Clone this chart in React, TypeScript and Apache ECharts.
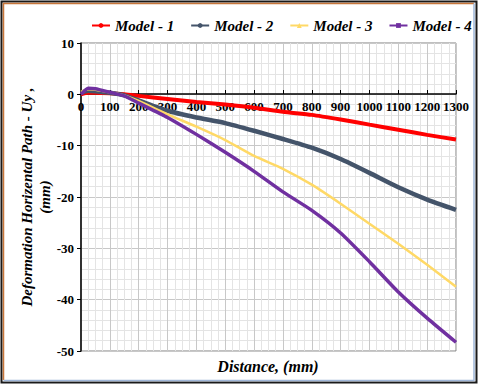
import React, { useEffect, useRef } from "react";
import * as echarts from "echarts";

const distance = [0, 25, 50, 100, 150, 200, 300, 400, 500, 600, 700, 800, 900, 1000, 1100, 1200, 1300];
const model1 = [0, 0.3, 0.3, 0.2, 0, -0.3, -0.9, -1.5, -2.0, -2.6, -3.4, -4.0, -4.9, -5.9, -6.9, -7.9, -8.8];
const model2 = [0.3, 0.7, 0.6, 0.3, -0.2, -1.2, -3.2, -4.5, -5.6, -7.1, -8.7, -10.4, -12.6, -15.3, -18.1, -20.5, -22.5];
const model3 = [0.5, 1.0, 0.9, 0.4, -0.2, -1.3, -3.9, -6.3, -8.9, -12.0, -14.5, -17.6, -21.3, -25.2, -29.1, -33.2, -37.5];
const model4 = [0, 1.2, 1.1, 0.4, -0.3, -1.7, -4.5, -7.8, -11.3, -15.0, -19.0, -22.6, -27.0, -32.6, -38.5, -43.6, -48.3];
const seriesNames = ["Model - 1", "Model - 2", "Model - 3", "Model - 4"];
const xTicks = { min: 0, max: 1300, step: 100 };
const yTicks = { min: -50, max: 10, step: 10 };
const yTitle = "Deformation Horizental Path - Uy ,\n(mm)";
const xTitle = "Distance, (mm)";

const FONT = "'Times New Roman', 'Liberation Serif', 'DejaVu Serif', serif";

export default function App() {
  const ref = useRef<HTMLDivElement>(null);
  useEffect(() => {
    if (!ref.current) return;
    const chart = echarts.init(ref.current, undefined, { renderer: "svg" });
    const mk = (vals: number[]) => distance.map((d, i) => [d, vals[i]]);
    const styles = [
      { color: "#ff0000", width: 4, symbol: "circle" },
      { color: "#44546a", width: 4.5, symbol: "circle" },
      { color: "#ffd966", width: 2.5, symbol: "triangle" },
      { color: "#7030a0", width: 3.5, symbol: "rect" },
    ];
    const data = [model1, model2, model3, model4];
    chart.setOption({
      animation: false,
      backgroundColor: "#ffffff",
      textStyle: { fontFamily: FONT },
      legend: {
        top: 13,
        left: 86,
        width: 392,
        itemGap: 16,
        itemWidth: 18,
        itemHeight: 6,
        textStyle: { fontFamily: FONT, fontSize: 15, fontWeight: "bold", fontStyle: "italic", color: "#000" },
        data: seriesNames,
      },
      grid: {
        left: 81,
        right: 24,
        top: 43,
        bottom: 34,
        show: true,
        borderColor: "#808080",
        borderWidth: 1,
      },
      xAxis: {
        type: "value",
        min: xTicks.min,
        max: xTicks.max,
        interval: xTicks.step,
        position: "bottom",
        offset: -257,
        axisLine: { onZero: false, lineStyle: { color: "#000", width: 1.5 } },
        axisTick: { show: true, inside: true, length: 4, lineStyle: { color: "#000" } },
        axisLabel: {
          fontFamily: FONT,
          fontSize: 13,
          fontWeight: "bold",
          color: "#000",
          margin: 6,
          formatter: (v: number) => String(v),
        },
        splitLine: { show: true, lineStyle: { color: "#c8c8c8", width: 1 } },
        minorTick: { show: false, splitNumber: 4 },
        minorSplitLine: { show: true, lineStyle: { color: "#e4e4e4", width: 1 } },
      },
      yAxis: {
        type: "value",
        min: yTicks.min,
        max: yTicks.max,
        interval: yTicks.step,
        axisLine: { show: true, onZero: false, lineStyle: { color: "#000", width: 1.5 } },
        axisTick: { show: true, inside: false, length: 4, lineStyle: { color: "#000" } },
        axisLabel: { fontFamily: FONT, fontSize: 13, fontWeight: "bold", color: "#000", margin: 7 },
        splitLine: { show: true, lineStyle: { color: "#c8c8c8", width: 1 } },
        minorTick: { show: false, splitNumber: 5 },
        minorSplitLine: { show: true, lineStyle: { color: "#e4e4e4", width: 1 } },
      },
      series: seriesNames.map((name, i) => ({
        name,
        type: "line",
        data: mk(data[i]),
        smooth: 0.2,
        showSymbol: false,
        symbol: styles[i].symbol,
        symbolSize: 6,
        lineStyle: { color: styles[i].color, width: styles[i].width },
        itemStyle: { color: styles[i].color },
        z: 3 + i,
      })),
      graphic: [
        {
          type: "text",
          x: 36,
          y: 197,
          rotation: Math.PI / 2,
          style: {
            text: yTitle,
            font: "italic bold 15px " + FONT,
            lineHeight: 18,
            fill: "#000",
            textAlign: "center",
            textVerticalAlign: "middle",
          },
        },
        {
          type: "text",
          x: 268,
          y: 366,
          style: {
            text: xTitle,
            font: "italic bold 16px " + FONT,
            fill: "#000",
            textAlign: "center",
            textVerticalAlign: "middle",
          },
        },
        {
          type: "rect",
          shape: { x: 1.5, y: 1.5, width: 475, height: 381 },
          style: { fill: "none", stroke: "#1a1a1a", lineWidth: 2 },
          silent: true,
        },
        {
          type: "polyline",
          shape: { points: [[3.5, 380], [3.5, 3.5], [474, 3.5]] },
          style: { fill: "none", stroke: "#c8763a", lineWidth: 1.5 },
          silent: true,
        },
        {
          type: "polyline",
          shape: { points: [[474, 3.5], [474, 380.5], [3.5, 380.5]] },
          style: { fill: "none", stroke: "#9fb6d8", lineWidth: 1.5 },
          silent: true,
        },
      ],
    });
    return () => chart.dispose();
  }, []);
  return (
    <div
      ref={ref}
      style={{ position: "fixed", left: 0, top: 0, width: 480, height: 385, background: "#fff" }}
    />
  );
}
